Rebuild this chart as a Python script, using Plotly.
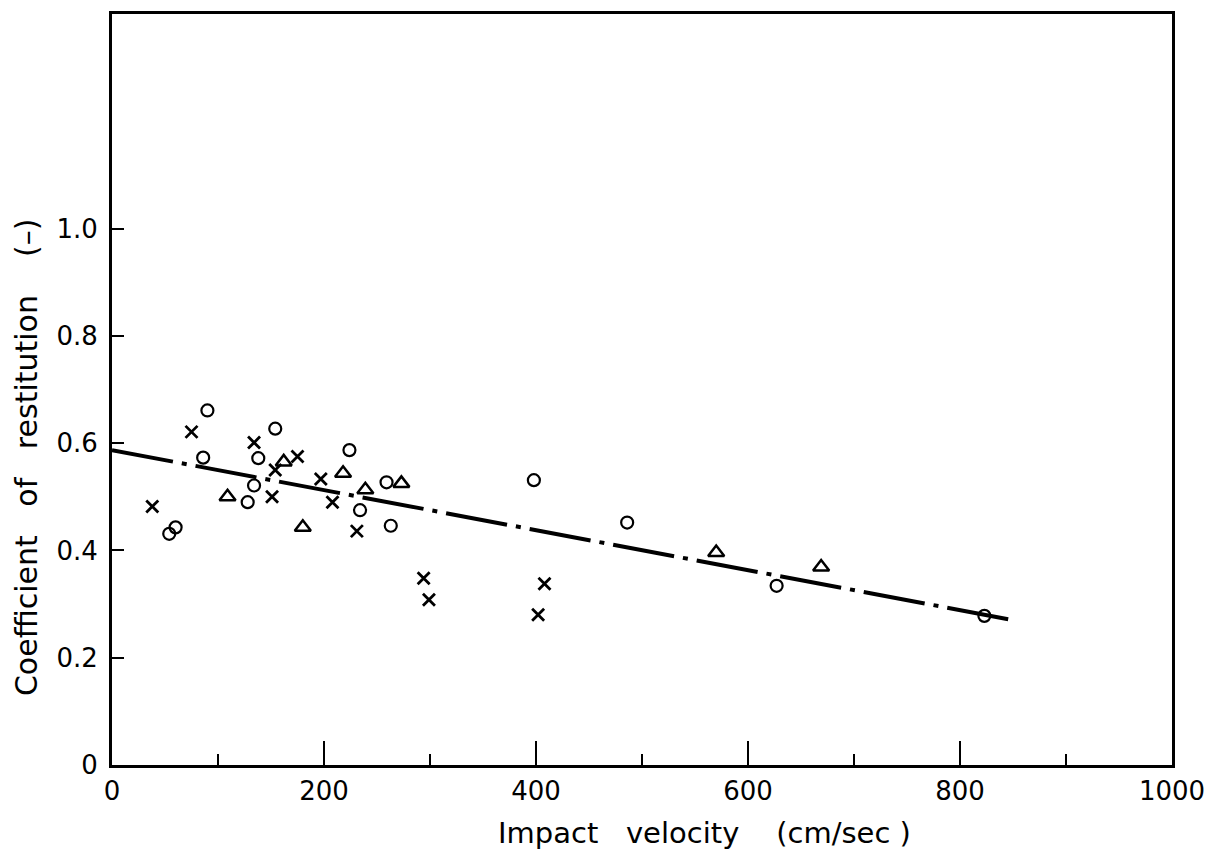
import plotly.graph_objects as go

# Data
circle_v = [54, 60, 86, 90, 128, 134, 138, 154, 224, 234, 259, 263, 398, 486, 627, 823]
circle_e = [0.431, 0.443, 0.573, 0.661, 0.490, 0.521, 0.572, 0.627, 0.587, 0.475,
            0.527, 0.446, 0.531, 0.452, 0.334, 0.278]

cross_v = [38, 75, 134, 151, 154, 175, 197, 208, 231, 294, 299, 402, 408]
cross_e = [0.482, 0.621, 0.601, 0.500, 0.550, 0.575, 0.533, 0.490, 0.436, 0.348,
           0.308, 0.280, 0.338]

tri_v = [109, 162, 180, 218, 239, 273, 570, 669]
tri_e = [0.500, 0.565, 0.443, 0.544, 0.513, 0.525, 0.396, 0.369]

fit_v = [0, 850]
fit_e = [0.587, 0.270]

x_ticks = [0, 200, 400, 600, 800, 1000]
x_tick_text = ["0", "200", "400", "600", "800", "1000"]
y_ticks = [0, 0.2, 0.4, 0.6, 0.8, 1.0]
y_tick_text = ["0", "0.2", "0.4", "0.6", "0.8", "1.0"]

FONT = "DejaVu Sans"

fig = go.Figure()

fig.add_trace(go.Scatter(
    x=fit_v, y=fit_e, mode="lines",
    line=dict(color="black", width=4, dash="62px,9px,5px,9px"),
    showlegend=False, hoverinfo="skip"))

fig.add_trace(go.Scatter(
    x=circle_v, y=circle_e, mode="markers",
    marker=dict(symbol="circle-open", size=12, color="black",
                line=dict(width=2.2, color="black")),
    showlegend=False))

fig.add_trace(go.Scatter(
    x=cross_v, y=cross_e, mode="markers",
    marker=dict(symbol="x-thin", size=12, color="black",
                line=dict(width=2.8, color="black")),
    showlegend=False))

fig.add_trace(go.Scatter(
    x=tri_v, y=tri_e, mode="markers",
    marker=dict(symbol="triangle-up-open", size=14, color="black",
                line=dict(width=2.5, color="black")),
    showlegend=False))

fig.update_layout(
    width=1218, height=853,
    margin=dict(l=112, r=46, t=14, b=88),
    paper_bgcolor="white", plot_bgcolor="white",
    font=dict(family=FONT, color="black"),
    xaxis=dict(
        range=[0, 1000], showgrid=False, zeroline=False,
        showline=True, linecolor="black", linewidth=3, mirror=True,
        ticks="inside", ticklen=24, tickwidth=2, tickcolor="black",
        tickvals=x_ticks, ticktext=x_tick_text,
        tickfont=dict(family=FONT, size=26, color="black"),
        ticklabelstandoff=1,
        minor=dict(dtick=100, ticks="inside", ticklen=11, tickwidth=2,
                   tickcolor="black", showgrid=False),
    ),
    yaxis=dict(
        range=[0, 1.40], showgrid=False, zeroline=False,
        showline=True, linecolor="black", linewidth=3, mirror=True,
        ticks="inside", ticklen=12, tickwidth=2, tickcolor="black",
        tickvals=y_ticks, ticktext=y_tick_text,
        tickfont=dict(family=FONT, size=26, color="black"),
        ticklabelstandoff=6,
    ),
    annotations=[
        dict(text="Impact   velocity    (cm/sec )", xref="paper", yref="paper",
             x=0.559, y=0, yshift=-68, xanchor="center", yanchor="middle",
             showarrow=False, font=dict(family=FONT, size=29, color="black")),
        dict(text="Coefficient   of   restitution    (\u2013)", xref="paper", yref="paper",
             x=0, y=0.41, xshift=-86, xanchor="center", yanchor="middle",
             textangle=-90, showarrow=False,
             font=dict(family=FONT, size=30, color="black")),
    ],
)

fig.write_html("out.html", config={"displayModeBar": False},
               post_script="document.body.style.margin='0';")
